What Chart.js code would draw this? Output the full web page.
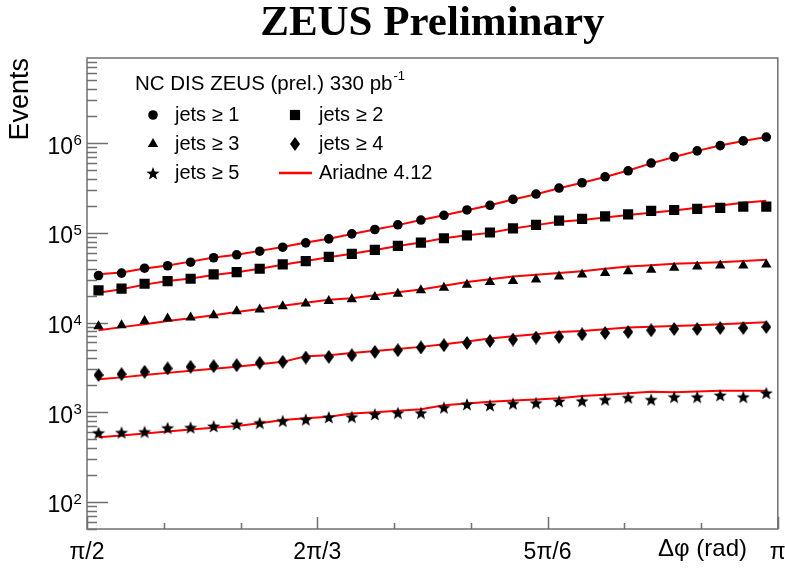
<!DOCTYPE html>
<html>
<head>
<meta charset="utf-8">
<script src="https://cdn.jsdelivr.net/npm/chart.js"></script>
<style>
  html, body { margin: 0; padding: 0; background: #fff; }
  #wrap { width: 785px; height: 569px; }
</style>
</head>
<body>
<div id="wrap"><canvas id="chart" width="785" height="569"></canvas></div>
<script>
// bin centres in degrees (30 bins between pi/2 and pi)
const binCentres = [91.5, 94.5, 97.5, 100.5, 103.5, 106.5, 109.5, 112.5, 115.5, 118.5,
  121.5, 124.5, 127.5, 130.5, 133.5, 136.5, 139.5, 142.5, 145.5, 148.5,
  151.5, 154.5, 157.5, 160.5, 163.5, 166.5, 169.5, 172.5, 175.5, 178.5];

// data points (ZEUS prel.)
const jets1 = [3.35e4, 3.56e4, 4.04e4, 4.30e4, 4.71e4, 5.28e4, 5.70e4, 6.25e4, 6.92e4, 7.74e4,
  8.58e4, 9.75e4, 1.09e5, 1.23e5, 1.39e5, 1.57e5, 1.80e5, 2.03e5, 2.36e5, 2.71e5,
  3.16e5, 3.62e5, 4.22e5, 4.92e5, 6.00e5, 7.04e5, 8.21e5, 9.40e5, 1.06e6, 1.17e6];
const jets2 = [2.29e4, 2.39e4, 2.71e4, 2.90e4, 3.08e4, 3.44e4, 3.65e4, 3.98e4, 4.45e4, 4.84e4,
  5.39e4, 5.84e4, 6.47e4, 7.17e4, 7.80e4, 8.71e4, 9.40e4, 1.01e5, 1.125e5, 1.23e5,
  1.37e5, 1.43e5, 1.53e5, 1.61e5, 1.76e5, 1.80e5, 1.85e5, 1.90e5, 1.96e5, 1.96e5];
const jets3 = [9.10e3, 9.33e3, 1.04e4, 1.11e4, 1.14e4, 1.21e4, 1.34e4, 1.40e4, 1.52e4, 1.63e4,
  1.74e4, 1.82e4, 1.93e4, 2.10e4, 2.29e4, 2.45e4, 2.64e4, 2.83e4, 2.90e4, 3.03e4,
  3.27e4, 3.44e4, 3.56e4, 3.74e4, 3.88e4, 4.08e4, 4.22e4, 4.33e4, 4.33e4, 4.45e4];
const jets4 = [2.60e3, 2.66e3, 2.83e3, 3.08e3, 3.21e3, 3.27e3, 3.35e3, 3.56e3, 3.65e3, 4.08e3,
  4.15e3, 4.33e3, 4.71e3, 4.92e3, 5.28e3, 5.59e3, 5.93e3, 6.25e3, 6.47e3, 6.81e3,
  6.95e3, 7.41e3, 7.66e3, 7.86e3, 8.21e3, 8.49e3, 8.49e3, 8.71e3, 8.71e3, 8.94e3];
const jets5 = [593, 599, 609, 674, 681, 704, 741, 766, 807, 836,
  887, 894, 957, 990, 990, 1136, 1237, 1205, 1259, 1278,
  1335, 1345, 1394, 1468, 1394, 1491, 1491, 1557, 1491, 1651];

// Ariadne 4.12 prediction
const ariadne1 = [3.45e4, 3.62e4, 4.00e4, 4.32e4, 4.78e4, 5.30e4, 5.72e4, 6.30e4, 6.95e4, 7.80e4,
  8.60e4, 9.70e4, 1.09e5, 1.22e5, 1.39e5, 1.57e5, 1.79e5, 2.03e5, 2.35e5, 2.70e5,
  3.14e5, 3.62e5, 4.20e5, 4.95e5, 5.95e5, 7.00e5, 8.20e5, 9.40e5, 1.06e6, 1.17e6];
const ariadne2 = [2.15e4, 2.35e4, 2.65e4, 2.90e4, 3.10e4, 3.40e4, 3.65e4, 3.98e4, 4.40e4, 4.85e4,
  5.35e4, 5.85e4, 6.45e4, 7.15e4, 7.80e4, 8.70e4, 9.40e4, 1.00e5, 1.12e5, 1.22e5,
  1.33e5, 1.39e5, 1.48e5, 1.58e5, 1.68e5, 1.78e5, 1.90e5, 2.02e5, 2.17e5, 2.28e5];
const ariadne3 = [8.2e3, 8.9e3, 9.6e3, 1.04e4, 1.12e4, 1.21e4, 1.31e4, 1.42e4, 1.54e4, 1.66e4,
  1.80e4, 1.87e4, 2.02e4, 2.18e4, 2.34e4, 2.58e4, 2.83e4, 3.04e4, 3.27e4, 3.41e4,
  3.56e4, 3.74e4, 3.98e4, 4.22e4, 4.36e4, 4.52e4, 4.62e4, 4.71e4, 4.86e4, 5.01e4];
const ariadne4 = [2.33e3, 2.45e3, 2.60e3, 2.75e3, 2.90e3, 3.05e3, 3.21e3, 3.44e3, 3.65e3, 4.22e3,
  4.33e3, 4.57e3, 4.82e3, 5.09e3, 5.36e3, 5.75e3, 6.17e3, 6.64e3, 7.03e3, 7.43e3,
  7.86e3, 8.07e3, 8.43e3, 8.80e3, 8.96e3, 9.14e3, 9.33e3, 9.57e3, 9.82e3, 1.01e4];
const ariadne5 = [528, 552, 580, 609, 641, 673, 704, 755, 821, 858,
  894, 967, 1003, 1039, 1080, 1196, 1253, 1312, 1352, 1391,
  1430, 1517, 1568, 1630, 1694, 1668, 1702, 1738, 1738, 1738];

// axis labels
const xTickValues = [90, 120, 150, 180];
const xTickLabels = ['π/2', '2π/3', '5π/6', 'π'];
const yTickValues = [1e2, 1e3, 1e4, 1e5, 1e6];
const yTickBase = '10';
const yTickPowers = ['2', '3', '4', '5', '6'];

const SANS = '"Liberation Sans", Arial, sans-serif';
const AXIS_GREY = '#707070';

// marker shapes not built into Chart.js
function markerCanvas(w, h, path) {
  const c = document.createElement('canvas');
  c.width = w; c.height = h;
  const g = c.getContext('2d');
  g.fillStyle = '#000';
  g.beginPath();
  path(g, w, h);
  g.closePath();
  g.fill();
  return c;
}
const diamond = markerCanvas(10, 14, (g, w, h) => {
  g.moveTo(w / 2, 0); g.lineTo(w, h / 2); g.lineTo(w / 2, h); g.lineTo(0, h / 2);
});
const star = markerCanvas(14, 14, (g, w, h) => {
  const cx = w / 2, cy = h / 2 + 0.8;
  for (let k = 0; k < 10; k++) {
    const a = -Math.PI / 2 + k * Math.PI / 5;
    const rr = k % 2 ? 2.9 : 6.9;
    g.lineTo(cx + rr * Math.cos(a), cy + rr * Math.sin(a));
  }
});

const series = [
  { label: 'jets ≥ 1', values: jets1, model: ariadne1, style: 'circle', radius: 4.8 },
  { label: 'jets ≥ 2', values: jets2, model: ariadne2, style: 'rect', radius: 7.2 },
  { label: 'jets ≥ 3', values: jets3, model: ariadne3, style: 'triangle', radius: 6 },
  { label: 'jets ≥ 4', values: jets4, model: ariadne4, style: diamond, radius: 7 },
  { label: 'jets ≥ 5', values: jets5, model: ariadne5, style: star, radius: 7 },
];

const toXY = arr => arr.map((v, i) => ({ x: binCentres[i], y: v }));

const datasets = [];
series.forEach(s => {
  datasets.push({
    label: s.label,
    data: toXY(s.values),
    showLine: false,
    pointStyle: s.style,
    pointRadius: s.radius,
    pointBackgroundColor: '#000',
    pointBorderWidth: 0,
  });
});
series.forEach(s => {
  datasets.push({
    label: 'Ariadne 4.12',
    data: toXY(s.model),
    borderColor: '#ff0000',
    borderWidth: 2,
    pointRadius: 0,
    fill: false,
    tension: 0,
  });
});

function drawMarker(ctx, style, radius, x, y) {
  ctx.fillStyle = '#000';
  if (typeof style !== 'string') {
    ctx.drawImage(style, x - style.width / 2, y - style.height / 2);
    return;
  }
  ctx.beginPath();
  if (style === 'circle') {
    ctx.arc(x, y, radius, 0, Math.PI * 2);
  } else if (style === 'rect') {
    const s = radius * Math.SQRT1_2;
    ctx.rect(x - s, y - s, 2 * s, 2 * s);
  } else if (style === 'triangle') {
    for (let k = 0; k < 3; k++) {
      const a = k * 2 * Math.PI / 3;
      ctx.lineTo(x + Math.sin(a) * radius, y - Math.cos(a) * radius);
    }
    ctx.closePath();
  }
  ctx.fill();
}

// frame and inward ticks, ROOT style
const frameTicks = {
  id: 'frameTicks',
  beforeDatasetsDraw(chart) {
    const { ctx, chartArea: a, scales: { x, y } } = chart;
    ctx.save();
    ctx.strokeStyle = AXIS_GREY;
    ctx.lineWidth = 1.5;
    ctx.strokeRect(a.left, a.top, a.right - a.left, a.bottom - a.top);
    ctx.beginPath();
    y.ticks.forEach(t => {
      const p = Math.round(y.getPixelForValue(t.value)) + 0.5;
      const len = yTickValues.includes(t.value) ? 21 : 10;
      ctx.moveTo(a.left, p); ctx.lineTo(a.left + len, p);
    });
    x.ticks.forEach(t => {
      const p = Math.round(x.getPixelForValue(t.value)) + 0.5;
      const len = xTickValues.includes(t.value) ? 12 : 6;
      ctx.moveTo(p, a.bottom); ctx.lineTo(p, a.bottom - len);
    });
    ctx.stroke();
    ctx.restore();
  },
  afterDatasetsDraw(chart) {
    const { ctx, scales: { y } } = chart;
    ctx.save();
    ctx.fillStyle = '#000';
    ctx.textBaseline = 'middle';

    // exponents of the y tick labels
    ctx.textAlign = 'left';
    ctx.font = '15px ' + SANS;
    yTickValues.forEach((v, k) => {
      ctx.fillText(yTickPowers[k], 73.5, y.getPixelForValue(v) - 2);
    });

    // x axis title, sits on the tick label row
    ctx.font = '24px ' + SANS;
    ctx.textAlign = 'right';
    ctx.fillText('Δφ (rad)', 747, 549);

    // legend
    ctx.textAlign = 'left';
    ctx.font = '20.5px ' + SANS;
    const head = 'NC DIS ZEUS (prel.) 330 pb';
    ctx.fillText(head, 135, 84);
    const hw = ctx.measureText(head).width;
    ctx.font = '13px ' + SANS;
    ctx.fillText('-1', 135 + hw + 1, 76);

    ctx.font = '20px ' + SANS;
    const rows = [115, 144, 173];
    const cols = [{ m: 153, t: 175 }, { m: 295, t: 319 }];
    const entries = series.map(s => ({ label: s.label, style: s.style, radius: s.radius }));
    entries.push({ label: 'Ariadne 4.12', line: true });
    entries.forEach((e, i) => {
      const yy = rows[Math.floor(i / 2)];
      const c = cols[i % 2];
      if (e.line) {
        ctx.strokeStyle = '#ff0000';
        ctx.lineWidth = 2.5;
        ctx.beginPath();
        ctx.moveTo(279, yy); ctx.lineTo(312, yy);
        ctx.stroke();
      } else {
        drawMarker(ctx, e.style, e.radius, c.m, yy);
      }
      ctx.fillStyle = '#000';
      ctx.fillText(e.label, c.t, yy);
    });
    ctx.restore();
  }
};

new Chart(document.getElementById('chart'), {
  type: 'line',
  data: { datasets },
  options: {
    responsive: false,
    animation: false,
    events: [],
    layout: { padding: { left: 0, right: 6, top: 0, bottom: 0 } },
    plugins: {
      legend: { display: false },
      tooltip: { enabled: false },
      title: {
        display: true,
        fullSize: false,
        text: 'ZEUS Preliminary',
        color: '#000',
        font: { family: '"Liberation Serif", "Times New Roman", serif', size: 43, weight: 'bold', lineHeight: 1.1 },
        padding: { top: 0, bottom: 10.7 },
      },
    },
    scales: {
      x: {
        type: 'linear',
        min: 90,
        max: 180,
        grid: { display: false, drawTicks: false },
        border: { display: false },
        afterBuildTicks: s => {
          const t = [];
          for (let v = 90; v <= 180; v += 10) t.push({ value: v });
          s.ticks = t;
        },
        afterFit: s => { s.height = 40; s.paddingLeft = 0; s.paddingRight = 0; },
        ticks: {
          autoSkip: false,
          maxRotation: 0,
          padding: 10,
          color: '#000',
          font: { family: SANS, size: 23 },
          callback: v => {
            const k = xTickValues.indexOf(v);
            return k >= 0 ? xTickLabels[k] : '';
          },
        },
      },
      y: {
        type: 'logarithmic',
        min: 50,
        max: 8.9e6,
        grid: { display: false, drawTicks: false },
        border: { display: false },
        afterBuildTicks: s => {
          const t = [];
          for (let e = 1; e <= 6; e++) {
            for (let m = 1; m <= 9; m++) {
              const v = m * Math.pow(10, e);
              if (v >= s.min && v <= s.max) t.push({ value: v });
            }
          }
          s.ticks = t;
        },
        afterFit: s => { s.width = 87; s.paddingTop = 0; s.paddingBottom = 0; },
        ticks: {
          autoSkip: false,
          padding: 14,
          labelOffset: 4,
          color: '#000',
          font: { family: SANS, size: 23 },
          callback: v => (yTickValues.includes(v) ? yTickBase : ''),
        },
        title: {
          display: true,
          text: 'Events',
          align: 'end',
          color: '#000',
          font: { family: SANS, size: 27 },
          padding: { top: 4, bottom: 0 },
        },
      },
    },
  },
  plugins: [frameTicks],
});
</script>
</body>
</html>
